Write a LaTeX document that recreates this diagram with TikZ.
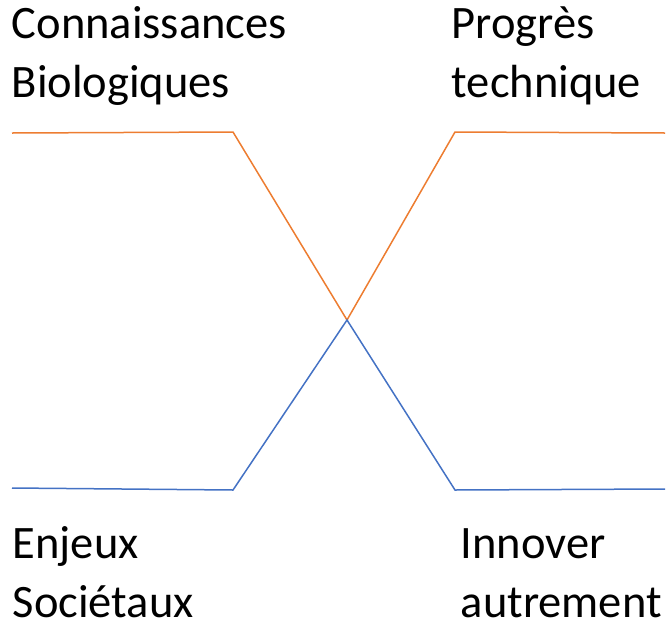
\documentclass[tikz,border=0pt]{standalone}
\usepackage{fontspec}
\setmainfont{Carlito}
\definecolor{lineorange}{HTML}{ED7D31}
\definecolor{lineblue}{HTML}{4472C4}
\begin{document}
\begin{tikzpicture}[x=1pt,y=-1pt,line width=1.5pt]
    \tikzstyle{every node}=[font=\fontsize{46.5}{59}\selectfont,align=left,inner sep=0pt,anchor=base west]
    \useasboundingbox (0,0) rectangle (670,622);

    % labels (placed at the baseline of their second line)
    \node (connaissances) at (11,97) {Connaissances\\Biologiques};
    \node (progres) at (451,97) {Progrès\\technique};
    \node (enjeux) at (12,617) {Enjeux\\Sociétaux};
    \node (innover) at (460,617) {Innover\\autrement};

    % the two crossing lines
    \coordinate (oa) at (12,133);
    \coordinate (ob) at (233,132);
    \coordinate (oc) at (455,132);
    \coordinate (od) at (665,133);
    \coordinate (ba) at (12,488);
    \coordinate (bb) at (233,490);
    \coordinate (bc) at (455,490);
    \coordinate (bd) at (665,489);
    \coordinate (cross) at (347,320);

    \draw[lineorange] (oa) -- (ob) -- (cross) -- (oc) -- (od);
    \draw[lineblue] (ba) -- (bb) -- (cross) -- (bc) -- (bd);
\end{tikzpicture}
\end{document}
